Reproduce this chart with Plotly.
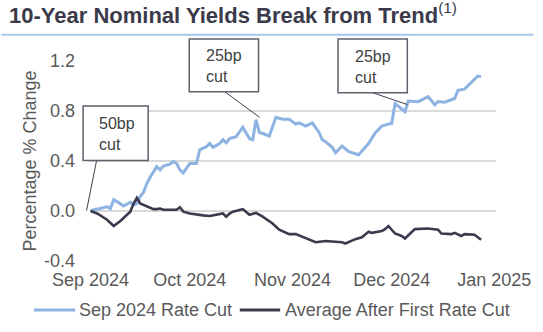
import plotly.graph_objects as go

# ---------------- data ----------------
sep_dates = ["2024-09-18", "2024-09-19", "2024-09-21", "2024-09-23", "2024-09-24", "2024-09-25",
             "2024-09-26", "2024-09-28", "2024-09-30", "2024-10-01", "2024-10-02", "2024-10-03",
             "2024-10-04", "2024-10-05", "2024-10-06", "2024-10-07", "2024-10-08", "2024-10-09",
             "2024-10-10", "2024-10-12", "2024-10-13", "2024-10-14", "2024-10-15", "2024-10-16",
             "2024-10-18", "2024-10-20", "2024-10-21", "2024-10-23", "2024-10-24", "2024-10-25",
             "2024-10-27", "2024-10-28", "2024-10-29", "2024-10-30", "2024-11-01", "2024-11-03",
             "2024-11-05", "2024-11-06", "2024-11-07", "2024-11-08", "2024-11-11", "2024-11-13",
             "2024-11-15", "2024-11-17", "2024-11-19", "2024-11-20", "2024-11-22", "2024-11-24",
             "2024-11-26", "2024-11-27", "2024-11-28", "2024-11-30", "2024-12-01", "2024-12-03",
             "2024-12-05", "2024-12-08", "2024-12-10", "2024-12-11", "2024-12-13", "2024-12-15",
             "2024-12-17", "2024-12-18", "2024-12-19", "2024-12-20", "2024-12-22", "2024-12-23",
             "2024-12-26", "2024-12-29", "2024-12-31", "2025-01-01", "2025-01-03", "2025-01-06",
             "2025-01-07", "2025-01-09", "2025-01-13", "2025-01-14"]
sep_values = [0.0, 0.01, 0.02, 0.035, 0.02, 0.09,
              0.075, 0.04, 0.07, 0.05, 0.06, 0.115,
              0.15, 0.22, 0.27, 0.315, 0.355, 0.33,
              0.36, 0.375, 0.395, 0.38, 0.33, 0.305,
              0.38, 0.38, 0.49, 0.515, 0.54, 0.51,
              0.54, 0.57, 0.545, 0.58, 0.595, 0.67,
              0.58, 0.57, 0.73, 0.63, 0.60, 0.75,
              0.735, 0.735, 0.695, 0.705, 0.68, 0.705,
              0.63, 0.57, 0.555, 0.51, 0.465, 0.52,
              0.475, 0.45, 0.515, 0.54, 0.625, 0.68,
              0.695, 0.70, 0.86, 0.84, 0.795, 0.88,
              0.875, 0.915, 0.85, 0.875, 0.87, 0.90,
              0.965, 0.975, 1.08, 1.075]

avg_dates = ["2024-09-18", "2024-09-20", "2024-09-23", "2024-09-25", "2024-09-27", "2024-09-29",
             "2024-09-30", "2024-10-01", "2024-10-02", "2024-10-03", "2024-10-05", "2024-10-07",
             "2024-10-08", "2024-10-09", "2024-10-10", "2024-10-12", "2024-10-14", "2024-10-15",
             "2024-10-16", "2024-10-18", "2024-10-19", "2024-10-22", "2024-10-24", "2024-10-26",
             "2024-10-28", "2024-10-29", "2024-10-30", "2024-10-31", "2024-11-03", "2024-11-05",
             "2024-11-07", "2024-11-09", "2024-11-12", "2024-11-14", "2024-11-16", "2024-11-17",
             "2024-11-19", "2024-11-21", "2024-11-23", "2024-11-25", "2024-11-28", "2024-12-02",
             "2024-12-03", "2024-12-04", "2024-12-06", "2024-12-07", "2024-12-09", "2024-12-11",
             "2024-12-12", "2024-12-15", "2024-12-16", "2024-12-17", "2024-12-19", "2024-12-21",
             "2024-12-22", "2024-12-24", "2024-12-25", "2024-12-29", "2025-01-01", "2025-01-02",
             "2025-01-05", "2025-01-06", "2025-01-08", "2025-01-09", "2025-01-12", "2025-01-13",
             "2025-01-14"]
avg_values = [0.0, -0.02, -0.07, -0.12, -0.08, -0.03,
              -0.005, 0.06, 0.105, 0.06, 0.04, 0.015,
              0.015, 0.02, 0.01, 0.01, 0.01, 0.03,
              -0.005, -0.02, -0.025, -0.035, -0.04, -0.03,
              -0.02, -0.045, -0.02, -0.005, 0.015, -0.03,
              -0.015, -0.045, -0.1, -0.15, -0.17, -0.185,
              -0.185, -0.205, -0.225, -0.25, -0.24, -0.245,
              -0.25, -0.26, -0.235, -0.225, -0.21, -0.165,
              -0.175, -0.16, -0.145, -0.12, -0.18, -0.2,
              -0.22, -0.165, -0.145, -0.14, -0.15, -0.18,
              -0.185, -0.175, -0.2, -0.185, -0.19, -0.21,
              -0.23]

series_names = ["Sep 2024 Rate Cut", "Average After First Rate Cut"]
x_tick_vals = ["2024-09-18", "2024-10-18", "2024-11-18", "2024-12-18", "2025-01-18"]
x_tick_text = ["Sep 2024", "Oct 2024", "Nov 2024", "Dec 2024", "Jan 2025"]
y_tick_vals = [-0.4, 0.0, 0.4, 0.8, 1.2]
y_tick_text = ["-0.4", "0.0", "0.4", "0.8", "1.2"]
callout_texts = ["50bp<br>cut", "25bp<br>cut", "25bp<br>cut"]

# ---------------- layout geometry (pixels) ----------------
W, H = 543, 332
L, R, T, B = 90, 41, 61, 71
PW, PH = W - L - R, H - T - B

def px(x):
    return (x - L) / PW

def py(y):
    return (H - B - y) / PH

FONT = "Liberation Sans, Arial, sans-serif"
LIGHT = "#8db3e2"
DARK = "#3b3a4e"
GREY = "#595959"

fig = go.Figure()
fig.add_trace(go.Scatter(x=sep_dates, y=sep_values, mode="lines", name=series_names[0],
                         line=dict(color=LIGHT, width=3), showlegend=False))
fig.add_trace(go.Scatter(x=avg_dates, y=avg_values, mode="lines", name=series_names[1],
                         line=dict(color=DARK, width=2.6), showlegend=False))

shapes = []
annotations = []

# title underline
shapes.append(dict(type="line", xref="paper", yref="paper", x0=px(0), x1=px(540),
                   y0=py(34.7), y1=py(34.7), line=dict(color="#a9c5e8", width=2)))

# callout boxes: (x0, x1, y0, y1, text_left, text_center_y, leader start, leader end)
boxes = [
    (83, 149, 106, 160.5, 97.5, 134, (96.7, 160.5), (86.5, 210.5)),
    (190.7, 261, 39, 91.7, 205.7, 65.5, (226.7, 91.7), (262, 117.3)),
    (341.7, 412, 39, 92.7, 356.7, 66.5, (376.7, 92.7), (412, 104.5)),
]
for (x0, x1, y0, y1, tx, ty, ls, le), txt in zip(boxes, callout_texts):
    shapes.append(dict(type="line", xref="paper", yref="paper",
                       x0=px(ls[0]), y0=py(ls[1]), x1=px(le[0]), y1=py(le[1]),
                       line=dict(color="#3f3f4f", width=1)))
    shapes.append(dict(type="rect", xref="paper", yref="paper",
                       x0=px(x0), x1=px(x1), y0=py(y1), y1=py(y0),
                       line=dict(color="#60606e", width=1.5), fillcolor="white", layer="above"))
    annotations.append(dict(xref="paper", yref="paper", x=px(tx), y=py(ty), text=txt,
                            showarrow=False, xanchor="left", yanchor="middle", align="left",
                            font=dict(family=FONT, size=16, color="#404040")))

# manual legend
leg_y = 310
legend_items = [(33, 75, 77, LIGHT, 3, series_names[0]),
                (242, 283, 286, DARK, 3, series_names[1])]
for lx0, lx1, tx, col, wd, name in legend_items:
    shapes.append(dict(type="line", xref="paper", yref="paper", x0=px(lx0), x1=px(lx1),
                       y0=py(leg_y), y1=py(leg_y), line=dict(color=col, width=wd)))
    annotations.append(dict(xref="paper", yref="paper", x=px(tx), y=py(leg_y), text=name,
                            showarrow=False, xanchor="left", yanchor="middle",
                            font=dict(family=FONT, size=18, color=GREY)))

fig.update_layout(
    width=W, height=H,
    margin=dict(l=L, r=R, t=T, b=B),
    paper_bgcolor="white", plot_bgcolor="white",
    font=dict(family=FONT, size=18, color=GREY),
    title=dict(text="<b>10-Year Nominal Yields Break from Trend</b><sup>(1)</sup>",
               xref="container", yref="container", x=9 / W, xanchor="left",
               y=1 - 15 / H, yanchor="middle",
               font=dict(family=FONT, size=22, color="#3a3a4a")),
    showlegend=False,
    shapes=shapes,
    annotations=annotations,
    xaxis=dict(type="date", range=["2024-09-17 20:00", "2025-01-18 12:00"],
               tickvals=x_tick_vals, ticktext=x_tick_text, showgrid=False, zeroline=False,
               showline=False, ticks="", ticklabelstandoff=6,
               tickfont=dict(family=FONT, size=18, color=GREY)),
    yaxis=dict(range=[-0.4, 1.2], tickvals=y_tick_vals, ticktext=y_tick_text,
               showgrid=True, gridcolor="#d9d9d9", gridwidth=1.5, zeroline=False,
               showline=False, ticks="", ticklabelstandoff=14,
               tickfont=dict(family=FONT, size=18, color=GREY),
               title=dict(text="Percentage % Change", standoff=2,
                          font=dict(family=FONT, size=18, color=GREY))),
)

fig.write_html("out.html")
